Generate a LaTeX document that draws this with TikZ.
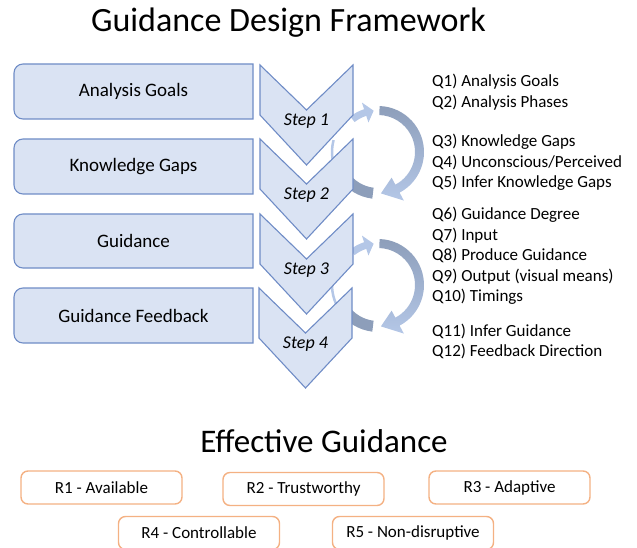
\documentclass[tikz,border=0pt]{standalone}
\usepackage{fontspec}
\setmainfont{Carlito}
\usetikzlibrary{calc}
\definecolor{boxfill}{HTML}{DAE3F3}
\definecolor{boxline}{HTML}{6F8CC6}
\definecolor{arrdark}{HTML}{8D9EBA}
\definecolor{arrlight}{HTML}{B4C7E7}
\definecolor{rline}{HTML}{F4B183}
\begin{document}
\begin{tikzpicture}[x=1pt,y=-1pt,
  leftbox/.style={fill=boxfill,draw=boxline,line width=1.1pt,line join=miter},
  chev/.style={fill=boxfill,draw=boxline,line width=1.1pt,line join=miter},
  boxtext/.style={font=\fontsize{19}{22}\selectfont,inner sep=0pt},
  steptext/.style={font=\fontsize{18}{21}\selectfont\itshape,inner sep=0pt},
  qtext/.style={font=\fontsize{17}{20}\selectfont,inner sep=0pt,anchor=base west},
  rbox/.style={draw=rline,fill=white,line width=1.4pt,rounded corners=7pt,
    minimum width=161pt,minimum height=33pt,inner sep=0pt,font=\fontsize{17}{20}\selectfont},
  titletext/.style={inner sep=0pt,anchor=base}]
\useasboundingbox (0,0) rectangle (637,548);
% title
\node[titletext,font=\fontsize{34}{40}\selectfont] (title) at (288.5,32) {Guidance Design Framework};
% back pieces of loop arrows
\foreach \cy in {152,285}{
  \fill[arrdark] ($(378,\cy)+(97:47)$) arc[start angle=97, end angle=145, radius=47]
     -- ($(378,\cy)+(145:36)$) arc[start angle=145, end angle=97, radius=36] -- cycle;
  \draw[arrlight, line width=2.5pt] ($(378,\cy)+(150:46)$) arc[start angle=150, end angle=195, radius=46];
  \fill[arrlight] ($(378,\cy)+(-128:45)$) arc[start angle=-128, end angle=-108, radius=45]
     -- ($(378,\cy)+(-108:52)$) -- ($(378,\cy)+(-96:41.5)$) -- ($(378,\cy)+(-108:31)$)
     -- ($(378,\cy)+(-108:38)$) arc[start angle=-108, end angle=-128, radius=38] -- cycle;
}
% left boxes
\foreach \a/\b/\txt/\n in {64/119/Analysis Goals/1,139/194/Knowledge Gaps/2,214/268/Guidance/3,288/343/Guidance Feedback/4}{
  \draw[leftbox] (253,\a) -- (23,\a) arc[start angle=-90, end angle=-180, radius=9]
     -- (14,\b-9) arc[start angle=180, end angle=90, radius=9] -- (253,\b) -- cycle;
  \node[boxtext] (b\n) at (133.5,{(\a+\b)/2}) {\txt};
}
% chevrons
\foreach \T/\dx/\n in {65/0/1,139/0/2,214/0/3,288/-1/4}{
  \draw[chev] (\dx+260,\T) -- (\dx+306.5,\T+45) -- (\dx+353,\T) -- (\dx+353,\T+50)
     -- (\dx+306.5,\T+100) -- (\dx+260,\T+50) -- cycle;
  \node[steptext] (s\n) at (\dx+306.5,\T+56) {Step \n};
}
% front pieces of loop arrows
\foreach \cy in {152,285}{
  \shade[top color=arrdark, bottom color=arrlight]
     ($(378,\cy)+(-88:46)$) arc[start angle=-88, end angle=62, radius=46]
     -- ($(378,\cy)+(62:55)$) -- ($(378,\cy)+(86:41.5)$) -- ($(378,\cy)+(62:29)$)
     -- ($(378,\cy)+(62:37)$) arc[start angle=62, end angle=-88, radius=37] -- cycle;
}
% questions
\node[qtext] (q1) at (432,86.5) {Q1) Analysis Goals};
\node[qtext] (q2) at (432,107.5) {Q2) Analysis Phases};
\node[qtext] (q3) at (432,146.5) {Q3) Knowledge Gaps};
\node[qtext] (q4) at (432,167.5) {Q4) Unconscious/Perceived};
\node[qtext] (q5) at (432,187.5) {Q5) Infer Knowledge Gaps};
\node[qtext] (q6) at (432,219.5) {Q6) Guidance Degree};
\node[qtext] (q7) at (432,240.5) {Q7) Input};
\node[qtext] (q8) at (432,260.5) {Q8) Produce Guidance};
\node[qtext] (q9) at (432,281.5) {Q9) Output (visual means)};
\node[qtext] (q10) at (432,301.5) {Q10) Timings};
\node[qtext] (q11) at (432,336.5) {Q11) Infer Guidance};
\node[qtext] (q12) at (432,356.5) {Q12) Feedback Direction};
% effective guidance
\node[titletext,font=\fontsize{33}{38}\selectfont] (eff) at (324,452) {Effective Guidance};
\node[rbox] (r1) at (101.5,487.5) {R1 - Available};
\node[rbox] (r2) at (303.5,489) {R2 - Trustworthy};
\node[rbox] (r3) at (509.5,487.5) {R3 - Adaptive};
\node[rbox] (r4) at (199,533) {R4 - Controllable};
\node[rbox] (r5) at (413,533) {R5 - Non-disruptive};
\end{tikzpicture}
\end{document}
